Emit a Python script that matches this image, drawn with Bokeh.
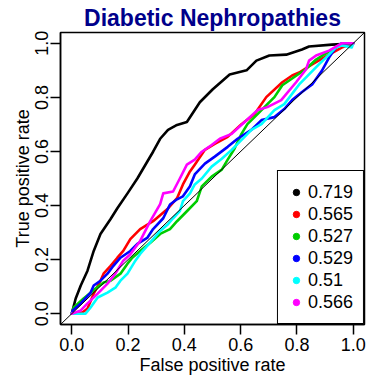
from bokeh.plotting import figure
from bokeh.models import Range1d, Legend, LegendItem, Slope, FixedTicker
from bokeh.embed import file_html
from bokeh.resources import INLINE

title_text = "Diabetic Nephropathies"
x_label = "False positive rate"
y_label = "True positive rate"
ticks = [0.0, 0.2, 0.4, 0.6, 0.8, 1.0]
tick_labels = ["0.0", "0.2", "0.4", "0.6", "0.8", "1.0"]
auc_labels = ["0.719", "0.565", "0.527", "0.529", "0.51", "0.566"]
series_colors = ["#000000", "#FF0000", "#00CD00", "#0000FF", "#00FFFF", "#FF00FF"]

fpr_black = [0, 0.014, 0.032, 0.056, 0.078, 0.102, 0.138, 0.162, 0.198, 0.233, 0.268, 0.289, 0.314, 0.342,
             0.374, 0.409, 0.455, 0.501, 0.561, 0.621, 0.656, 0.702, 0.762, 0.818, 0.843, 0.924, 0.995, 1.0]
tpr_black = [0, 0.056, 0.104, 0.159, 0.232, 0.295, 0.35, 0.39, 0.445, 0.50, 0.562, 0.599, 0.647, 0.68,
             0.698, 0.709, 0.782, 0.83, 0.885, 0.90, 0.936, 0.955, 0.958, 0.977, 0.988, 0.995, 0.999, 1.0]

fpr_red = [0, 0.039, 0.056, 0.078, 0.102, 0.113, 0.138, 0.162, 0.183, 0.208, 0.243, 0.289, 0.339, 0.374, 0.395,
           0.42, 0.437, 0.473, 0.508, 0.554, 0.603, 0.649, 0.691, 0.748, 0.783, 0.808, 0.854, 0.914, 0.959, 1.0]
tpr_red = [0, 0.005, 0.019, 0.074, 0.122, 0.148, 0.177, 0.207, 0.232, 0.276, 0.313, 0.342, 0.386, 0.427, 0.478,
           0.526, 0.551, 0.606, 0.628, 0.654, 0.701, 0.738, 0.801, 0.856, 0.881, 0.892, 0.922, 0.958, 0.984, 1.0]

fpr_green = [0, 0.007, 0.042, 0.085, 0.113, 0.138, 0.173, 0.198, 0.215, 0.243, 0.279, 0.314, 0.349, 0.374, 0.409,
             0.444, 0.462, 0.497, 0.533, 0.554, 0.578, 0.603, 0.624, 0.66, 0.695, 0.72, 0.748, 0.783, 0.832, 0.868,
             0.914, 0.959, 1.0]
tpr_green = [0, 0.023, 0.056, 0.093, 0.115, 0.122, 0.148, 0.185, 0.207, 0.232, 0.262, 0.295, 0.313, 0.342, 0.379,
             0.416, 0.471, 0.507, 0.533, 0.57, 0.61, 0.665, 0.701, 0.738, 0.775, 0.801, 0.845, 0.87, 0.905, 0.94,
             0.97, 0.995, 1.0]

fpr_blue = [0, 0.004, 0.032, 0.067, 0.078, 0.102, 0.127, 0.148, 0.173, 0.208, 0.233, 0.268, 0.289, 0.325, 0.349,
            0.374, 0.395, 0.42, 0.437, 0.473, 0.508, 0.554, 0.589, 0.638, 0.674, 0.72, 0.755, 0.783, 0.818, 0.854,
            0.889, 0.914, 0.938, 0.959, 1.0]
tpr_blue = [0, 0.012, 0.038, 0.078, 0.104, 0.122, 0.148, 0.177, 0.207, 0.232, 0.258, 0.28, 0.313, 0.353, 0.404,
            0.423, 0.434, 0.471, 0.515, 0.555, 0.581, 0.617, 0.647, 0.68, 0.716, 0.727, 0.757, 0.79, 0.82, 0.848,
            0.899, 0.947, 0.984, 1.0, 1.0]

fpr_cyan = [0, 0.049, 0.067, 0.092, 0.127, 0.155, 0.173, 0.198, 0.226, 0.243, 0.268, 0.289, 0.314, 0.342, 0.36,
            0.384, 0.395, 0.42, 0.437, 0.462, 0.497, 0.533, 0.568, 0.614, 0.638, 0.674, 0.72, 0.755, 0.808, 0.843,
            0.878, 0.914, 0.938, 0.959, 0.995, 1.0]
tpr_cyan = [0, 0.0, 0.023, 0.06, 0.078, 0.096, 0.122, 0.148, 0.196, 0.221, 0.251, 0.276, 0.306, 0.331, 0.353,
            0.379, 0.416, 0.445, 0.478, 0.5, 0.544, 0.573, 0.606, 0.654, 0.68, 0.701, 0.753, 0.775, 0.848, 0.885,
            0.922, 0.958, 0.984, 0.992, 0.985, 1.0]

fpr_magenta = [0, 0.032, 0.056, 0.092, 0.127, 0.155, 0.183, 0.208, 0.243, 0.279, 0.314, 0.325, 0.36, 0.384, 0.409,
               0.437, 0.462, 0.497, 0.526, 0.568, 0.614, 0.66, 0.695, 0.744, 0.797, 0.832, 0.843, 0.868, 0.914,
               0.959, 1.0]
tpr_magenta = [0, 0.012, 0.038, 0.074, 0.111, 0.148, 0.196, 0.22, 0.269, 0.342, 0.405, 0.445, 0.452, 0.5, 0.551,
               0.57, 0.599, 0.624, 0.647, 0.665, 0.709, 0.753, 0.764, 0.79, 0.856, 0.903, 0.936, 0.955, 0.973,
               1.0, 1.0]

series = [(fpr_black, tpr_black), (fpr_red, tpr_red), (fpr_green, tpr_green),
          (fpr_blue, tpr_blue), (fpr_cyan, tpr_cyan), (fpr_magenta, tpr_magenta)]

FONT = "Liberation Sans"

p = figure(width=367, height=385, output_backend="svg", toolbar_location=None,
           x_range=Range1d(-0.04, 1.04), y_range=Range1d(-0.04, 1.04),
           min_border_left=60, min_border_right=3, min_border_top=30, min_border_bottom=61,
           background_fill_color="white", border_fill_color="white")

p.title.text = title_text
p.title.align = "center"
p.title.text_font = FONT
p.title.text_font_size = "23px"
p.title.text_font_style = "bold"
p.title.text_color = "#00008B"
p.title.standoff = 4

p.grid.visible = False
p.outline_line_color = "black"
p.outline_line_width = 1.5
p.outline_line_alpha = 1.0

for ax, lab in ((p.xaxis, x_label), (p.yaxis, y_label)):
    ax.ticker = FixedTicker(ticks=ticks)
    ax.major_label_overrides = {t: l for t, l in zip(ticks, tick_labels)}
    ax.axis_label = lab
    ax.axis_label_text_font = FONT
    ax.axis_label_text_font_size = "18px"
    ax.axis_label_text_font_style = "normal"
    ax.axis_label_text_color = "black"
    ax.major_label_text_font = FONT
    ax.major_label_text_font_size = "18px"
    ax.major_label_text_color = "black"
    ax.major_tick_in = 0
    ax.major_tick_out = 10
    ax.major_tick_line_width = 1.5
    ax.major_tick_line_color = "black"
    ax.minor_tick_line_color = None
    ax.axis_line_width = 1.5
    ax.axis_line_color = "black"

p.xaxis.major_label_standoff = 3
p.xaxis.axis_label_standoff = 1
p.yaxis.major_label_standoff = 2
p.yaxis.axis_label_standoff = 0
p.yaxis.major_label_orientation = "vertical"

items = []
for (fx, ty), c in zip(series, series_colors):
    p.line(fx, ty, line_color=c, line_width=2.6, line_join="round", line_cap="round")
for (fx, ty), c, lab in zip(series, series_colors, auc_labels):
    r = p.scatter(fx, ty, size=0, fill_color=c, line_color=c)
    items.append(LegendItem(label=lab, renderers=[r]))

p.add_layout(Slope(gradient=1, y_intercept=0, line_color="black", line_width=1))

legend = Legend(items=items, location="bottom_right", margin=0, padding=10, spacing=0,
                glyph_width=16, glyph_height=22, label_height=22, label_standoff=4,
                label_text_font=FONT, label_text_font_size="18px", label_text_color="black",
                border_line_color="black", border_line_width=1.5, border_line_alpha=1.0,
                background_fill_color="white", background_fill_alpha=1.0)
p.add_layout(legend)

open("out.html", "w").write(file_html(p, INLINE))
